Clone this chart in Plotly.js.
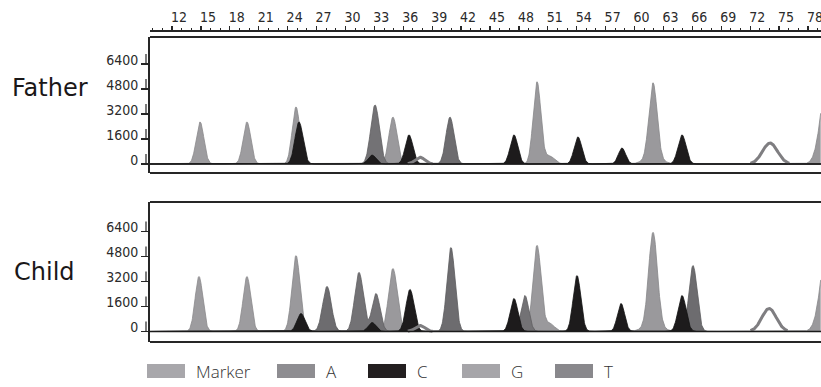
<!DOCTYPE html>
<html><head><meta charset="utf-8">
<script src="https://cdn.plot.ly/plotly-3.0.1.min.js"></script>
<style>html,body{margin:0;padding:0;background:#fff}#chart{width:821px;height:387px}</style>
</head><body><div id="chart"></div>
<script>
// ---------------- DATA ----------------
const rulerTicks = [12,15,18,21,24,27,30,33,36,39,42,45,48,51,54,57,60,63,66,69,72,75,78];
const rulerLabels = rulerTicks.map(String);
const yTicks = [0,1600,3200,4800,6400];
const yLabels = ["0","1600","3200","4800","6400"];
const panelNames = ["Father","Child"];
const channelNames = ["Marker","A","C","G","T"];

// Father: peak position (size units), height (RFU), width (sigma, size units)
const fatherMarkerPos = [14.91, 19.78];
const fatherMarkerHt  = [2690, 2690];
const fatherMarkerW   = [0.40, 0.40];
const fatherGPos = [24.87, 34.93, 49.88, 51.2, 61.92, 61.9, 80.2];
const fatherGHt  = [3650, 3000, 5250, 500, 4800, 400, 6500];
const fatherGW   = [0.40, 0.42, 0.40, 0.5, 0.42, 0.9, 0.75];
const fatherAPos = [33.07];
const fatherAHt  = [3780];
const fatherAW   = [0.45];
const fatherTPos = [40.85];
const fatherTHt  = [3000];
const fatherTW   = [0.42];
const fatherCPos = [25.18, 32.76, 36.60, 47.49, 54.13, 58.70, 64.93];
const fatherCHt  = [2690, 576, 1860, 1860, 1730, 1020, 1860];
const fatherCW   = [0.42, 0.40, 0.40, 0.40, 0.40, 0.38, 0.42];
const fatherOpenPos = [37.74, 74.06];
const fatherOpenHt  = [430, 1340];
const fatherOpenW   = [0.50, 0.78];

// Child
const childMarkerPos = [14.80, 19.78];
const childMarkerHt  = [3520, 3520];
const childMarkerW   = [0.40, 0.40];
const childGPos = [24.87, 34.93, 49.88, 51.2, 61.92, 61.9, 80.2];
const childGHt  = [4860, 4030, 5500, 500, 5900, 450, 6600];
const childGW   = [0.42, 0.45, 0.42, 0.5, 0.45, 0.9, 0.75];
const childAPos = [31.41, 33.17, 48.63];
const childAHt  = [3780, 2430, 2300];
const childAW   = [0.45, 0.42, 0.40];
const childTPos = [28.09, 40.95, 66.07];
const childTHt  = [2880, 5380, 4220];
const childTW   = [0.45, 0.42, 0.42];
const childCPos = [25.39, 32.76, 36.70, 47.49, 54.03, 58.60, 64.93];
const childCHt  = [1150, 576, 2690, 2110, 3580, 1790, 2300];
const childCW   = [0.42, 0.40, 0.42, 0.40, 0.40, 0.38, 0.42];
const childOpenPos = [37.74, 73.96];
const childOpenHt  = [380, 1470];
const childOpenW   = [0.50, 0.75];

// ---------------- STYLES ----------------
const fillCol = {Marker:'#9d9c9f', G:'#9a999c', A:'#737275', T:'#6d6c6f', C:'#1d1b1c'};
const edgeCol = {Marker:'#8a898c', G:'#878689', A:'#5f5e61', T:'#5b5a5d', C:'#111'};
const legendCol = {Marker:'#a8a7ab', A:'#8e8d91', C:'#231f20', G:'#a6a5a9', T:'#89888c'};
const openCol = '#7f7e81';
const W = 821, H = 387;
const py = p => 1 - p / H;   // pixel row -> paper y
const px = p => p / W;       // pixel col -> paper x
const xRange = [9.717, 79.35];
const tickFont = {family:'"DejaVu Sans Condensed","Liberation Sans Narrow","DejaVu Sans",sans-serif', size:14, color:'#2a2a2a'};

// grid along the size axis used to draw the peak curves
const grid = [];
for (let v = xRange[0]; v <= xRange[1] + 1e-9; v += 0.04) grid.push(+v.toFixed(3));

function curve(pos, ht, w) {
  return grid.map(x => {
    let s = 0;
    for (let i = 0; i < pos.length; i++) {
      const d = (x - pos[i]) / w[i];
      s += ht[i] * Math.exp(-0.5 * d * d);
    }
    return s;
  });
}
function openCurve(pos, ht, w) {
  const xs = [], ys = [];
  for (let i = 0; i < pos.length; i++) {
    grid.forEach(x => {
      const d = (x - pos[i]) / w[i];
      if (Math.abs(d) <= 2.6) { xs.push(x); ys.push(ht[i] * Math.exp(-0.5 * d * d)); }
    });
    xs.push(null); ys.push(null);
  }
  return {xs, ys};
}

const panels = [
  {xa:'x', ya:'y', sets:{Marker:[fatherMarkerPos,fatherMarkerHt,fatherMarkerW], G:[fatherGPos,fatherGHt,fatherGW],
     A:[fatherAPos,fatherAHt,fatherAW], T:[fatherTPos,fatherTHt,fatherTW], C:[fatherCPos,fatherCHt,fatherCW]},
   open:[fatherOpenPos,fatherOpenHt,fatherOpenW]},
  {xa:'x2', ya:'y2', sets:{Marker:[childMarkerPos,childMarkerHt,childMarkerW], G:[childGPos,childGHt,childGW],
     A:[childAPos,childAHt,childAW], T:[childTPos,childTHt,childTW], C:[childCPos,childCHt,childCW]},
   open:[childOpenPos,childOpenHt,childOpenW]}
];
const drawOrder = ['Marker','G','A','T','C'];
const traces = [];
panels.forEach(p => {
  drawOrder.forEach(ch => {
    const [pos, ht, w] = p.sets[ch];
    traces.push({x:grid, y:curve(pos, ht, w), xaxis:p.xa, yaxis:p.ya, type:'scatter', mode:'lines',
      fill:'tozeroy', fillcolor:fillCol[ch], line:{color:edgeCol[ch], width:0.8},
      name:ch, showlegend:false, hoverinfo:'skip'});
  });
  const o = openCurve(p.open[0], p.open[1], p.open[2]);
  traces.push({x:o.xs, y:o.ys, xaxis:p.xa, yaxis:p.ya, type:'scatter', mode:'lines',
    line:{color:openCol, width:3}, connectgaps:false, showlegend:false, hoverinfo:'skip'});
});

// ---------------- LAYOUT ----------------
const fatherTop = 37, fatherBot = 173, childTop = 202, childBot = 342;
const lineCol = '#262626';
const shapes = [];
[[fatherTop, fatherBot, 'y'], [childTop, childBot, 'y2']].forEach(([t, b, ya]) => {
  shapes.push({type:'line', xref:'paper', yref:'paper', x0:px(150), x1:1, y0:py(t), y1:py(t), line:{color:lineCol, width:2}});
  shapes.push({type:'line', xref:'paper', yref:'paper', x0:px(150), x1:1, y0:py(b), y1:py(b), line:{color:lineCol, width:2}});
  shapes.push({type:'line', xref:'paper', yref:ya, x0:px(150), x1:1, y0:0, y1:0, line:{color:'#1a1a1a', width:1.6}});
  yTicks.forEach(v => shapes.push({type:'line', xref:'paper', yref:ya, x0:px(146), x1:px(146), y0:v, y1:v + 640,
    line:{color:lineCol, width:1.2}}));
});

const legX = [147, 277, 368, 462, 555];
const annotations = [
  {text:panelNames[0], xref:'paper', yref:'paper', x:px(10), y:py(88), xanchor:'left', yanchor:'middle', showarrow:false,
   font:{family:'"DejaVu Sans",sans-serif', size:24, color:'#1a1718'}},
  {text:panelNames[1], xref:'paper', yref:'paper', x:px(12), y:py(272), xanchor:'left', yanchor:'middle', showarrow:false,
   font:{family:'"DejaVu Sans",sans-serif', size:24, color:'#1a1718'}}
];
channelNames.forEach((ch, i) => {
  shapes.push({type:'rect', xref:'paper', yref:'paper', x0:px(legX[i]), x1:px(legX[i] + 38), y0:py(378), y1:py(364),
    fillcolor:legendCol[ch], line:{width:0}});
  annotations.push({text:ch, xref:'paper', yref:'paper', x:px(legX[i] + 47), y:py(371), xanchor:'left', yanchor:'middle',
    showarrow:false, font:{family:'"Open Sans",sans-serif', size:17, color:'#333', weight:300}});
});

const layout = {
  width:W, height:H, margin:{l:0, r:0, t:0, b:0}, paper_bgcolor:'#fff', plot_bgcolor:'rgba(0,0,0,0)',
  showlegend:false,
  xaxis:{domain:[px(150), 1], range:xRange, anchor:'free', position:py(30), side:'top',
    showline:true, linecolor:lineCol, linewidth:1.5, showgrid:false, zeroline:false,
    ticks:'outside', ticklen:4, tickwidth:1.2, tickcolor:lineCol, ticklabeloverflow:'allow',
    tickmode:'array', tickvals:rulerTicks, ticktext:rulerLabels, tickfont:tickFont, ticklabelshift:7, ticklabelstandoff:-2,
    minor:{tickmode:'linear', tick0:0, dtick:1, ticks:'outside', ticklen:2, tickwidth:1, tickcolor:lineCol, showgrid:false}},
  xaxis2:{domain:[px(150), 1], matches:'x', anchor:'y2', showline:false, showgrid:false, zeroline:false, ticks:'', showticklabels:false},
  yaxis:{domain:[py(fatherBot), py(fatherTop)], range:[-576, 8128], anchor:'x', showline:true, linecolor:lineCol, linewidth:2,
    showgrid:false, zeroline:false, ticks:'outside', ticklen:7, tickwidth:1.2, tickcolor:lineCol,
    tickmode:'array', tickvals:yTicks, ticktext:yLabels, tickfont:tickFont, ticklabelshift:-4, ticklabelstandoff:0},
  yaxis2:{domain:[py(childBot), py(childTop)], range:[-672, 8288], anchor:'x2', showline:true, linecolor:lineCol, linewidth:2,
    showgrid:false, zeroline:false, ticks:'outside', ticklen:7, tickwidth:1.2, tickcolor:lineCol,
    tickmode:'array', tickvals:yTicks, ticktext:yLabels, tickfont:tickFont, ticklabelshift:-4, ticklabelstandoff:0},
  shapes:shapes, annotations:annotations
};
Plotly.newPlot('chart', traces, layout, {staticPlot:true, displayModeBar:false});
</script></body></html>
